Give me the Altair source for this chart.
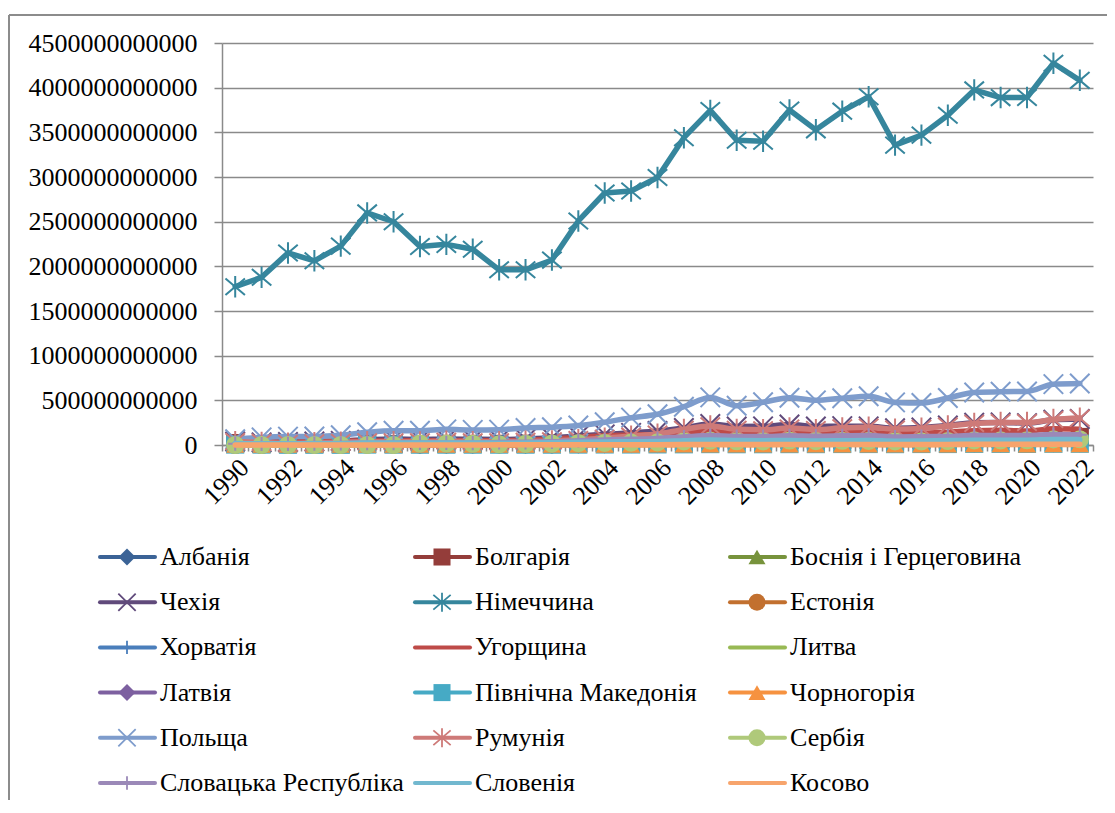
import altair as alt
import pandas as pd

years = [1990, 1991, 1992, 1993, 1994, 1995, 1996, 1997, 1998, 1999, 2000,
         2001, 2002, 2003, 2004, 2005, 2006, 2007, 2008, 2009, 2010, 2011,
         2012, 2013, 2014, 2015, 2016, 2017, 2018, 2019, 2020, 2021, 2022]

names = ["Албанія", "Болгарія", "Боснія і Герцеговина",
         "Чехія", "Німеччина", "Естонія",
         "Хорватія", "Угорщина", "Литва",
         "Латвія", "Північна Македонія", "Чорногорія",
         "Польща", "Румунія", "Сербія",
         "Словацька Республіка", "Словенія", "Косово"]

# values in billions of USD
albania = [2, 1, 1, 1, 2, 2, 3, 2, 3, 3, 4, 4, 4, 6, 7, 8, 9, 11, 13, 12, 12, 13, 12, 13, 13, 11, 12, 13, 15, 15, 15, 18, 19]
bulgaria = [21, 11, 11, 11, 10, 13, 10, 11, 13, 13, 13, 14, 16, 21, 26, 29, 33, 44, 54, 52, 50, 57, 54, 56, 57, 50, 54, 59, 66, 68, 70, 84, 90]
bosnia = [0, 0, 0, 0, 1, 2, 3, 4, 4, 5, 6, 6, 7, 9, 10, 11, 13, 16, 19, 18, 17, 19, 17, 18, 19, 16, 17, 18, 20, 20, 20, 23, 25]
czechia = [40, 29, 34, 40, 46, 58, 66, 62, 67, 64, 62, 68, 82, 100, 119, 136, 156, 190, 236, 207, 209, 230, 208, 211, 209, 188, 196, 219, 249, 253, 245, 282, 291]
germany = [1772, 1877, 2150, 2062, 2226, 2598, 2499, 2222, 2246, 2191, 1961, 1961, 2070, 2508, 2821, 2844, 2994, 3440, 3745, 3411, 3400, 3750, 3528, 3737, 3898, 3357, 3469, 3691, 3975, 3889, 3890, 4274, 4082]
estonia = [0, 0, 0, 0, 0, 5, 5, 5, 6, 6, 6, 6, 7, 10, 12, 14, 17, 22, 24, 20, 20, 23, 23, 25, 27, 23, 24, 27, 31, 31, 31, 37, 38]
croatia = [25, 22, 11, 11, 15, 23, 24, 24, 25, 24, 22, 23, 27, 35, 42, 46, 50, 60, 71, 63, 60, 63, 57, 58, 58, 50, 52, 56, 61, 61, 57, 69, 72]
hungary = [34, 34, 38, 39, 43, 46, 46, 47, 48, 49, 47, 53, 67, 85, 103, 112, 115, 139, 157, 131, 132, 141, 128, 135, 141, 126, 129, 143, 160, 164, 157, 182, 177]
lithuania = [0, 0, 0, 0, 0, 8, 9, 10, 11, 11, 12, 12, 14, 19, 23, 26, 30, 39, 48, 37, 37, 44, 43, 47, 49, 41, 43, 48, 54, 55, 57, 67, 70]
latvia = [0, 0, 0, 0, 0, 6, 6, 7, 7, 8, 8, 9, 10, 12, 14, 17, 22, 30, 36, 27, 24, 28, 28, 30, 31, 27, 28, 30, 34, 34, 35, 40, 41]
macedonia = [5, 5, 3, 3, 3, 5, 5, 4, 4, 4, 4, 4, 4, 5, 6, 6, 7, 8, 10, 9, 9, 10, 10, 11, 11, 10, 11, 11, 13, 13, 12, 14, 14]
montenegro = [0, 0, 0, 0, 0, 0, 0, 1, 1, 1, 1, 1, 2, 2, 2, 2, 3, 4, 5, 4, 4, 5, 4, 5, 5, 4, 4, 5, 6, 6, 5, 6, 6]
poland = [65, 85, 94, 96, 110, 142, 159, 159, 175, 169, 172, 191, 199, 218, 255, 306, 344, 429, 533, 440, 479, 529, 500, 524, 545, 477, 470, 526, 588, 597, 599, 681, 689]
romania = [38, 29, 20, 26, 30, 36, 36, 35, 42, 36, 37, 41, 46, 60, 76, 99, 122, 175, 214, 175, 170, 190, 172, 192, 200, 178, 188, 212, 242, 251, 251, 285, 301]
serbia = [0, 0, 0, 0, 0, 0, 0, 16, 17, 14, 7, 12, 16, 21, 24, 26, 30, 40, 49, 42, 41, 50, 44, 48, 47, 40, 41, 45, 51, 52, 53, 63, 64]
slovakia = [15, 11, 12, 16, 18, 20, 21, 23, 23, 21, 29, 30, 35, 47, 57, 63, 72, 90, 106, 95, 94, 104, 99, 103, 107, 90, 93, 96, 108, 107, 107, 118, 115]
slovenia = [17, 13, 13, 13, 15, 21, 21, 21, 22, 23, 20, 21, 24, 30, 34, 36, 39, 48, 56, 50, 48, 51, 46, 48, 50, 43, 45, 49, 54, 54, 54, 62, 60]
kosovo = [0, 0, 0, 0, 0, 0, 0, 0, 0, 0, 2, 2, 3, 3, 3, 3, 4, 5, 6, 6, 6, 7, 6, 7, 7, 6, 7, 7, 8, 8, 8, 9, 9]

series = [albania, bulgaria, bosnia, czechia, germany, estonia, croatia, hungary,
          lithuania, latvia, macedonia, montenegro, poland, romania, serbia,
          slovakia, slovenia, kosovo]

y_ticks = [0, 500e9, 1000e9, 1500e9, 2000e9, 2500e9, 3000e9, 3500e9, 4000e9, 4500e9]

colors = ["#3B6396", "#943D3A", "#77933C", "#604A7B", "#36869D", "#C2702F",
          "#4A7EBB", "#BE4B48", "#98B954", "#7D60A0", "#46AAC5", "#F69240",
          "#7E9CCC", "#CE7A78", "#AFC97A", "#9B89B8", "#72B8CF", "#F7A46C"]

X_PATH = "M-1,-1L1,1M-1,1L1,-1"
STAR_PATH = "M-1,-0.85L1,0.85M-1,0.85L1,-0.85M0,-1.1L0,1.1"
PLUS_PATH = "M-1,0L1,0M0,-1L0,1"
markers = ["diamond", "square", "triangle-up", "x", "star", "circle",
           "plus", None, None, "diamond", "square", "triangle-up",
           "x", "star", "circle", "plus", None, None]
filled_kinds = {"diamond": "diamond", "square": "square", "triangle-up": "triangle-up", "circle": "circle"}
stroke_kinds = {"x": X_PATH, "star": STAR_PATH, "plus": PLUS_PATH}

rows = []
for n, vals in zip(names, series):
    for yr, v in zip(years, vals):
        rows.append({"country": n, "year": yr, "gdp": v * 1e9})
df = pd.DataFrame(rows)

FONT = "Liberation Serif"
GRAY = "#8A8A8A"

X = alt.X("year:O", scale=alt.Scale(type="band", paddingInner=0, paddingOuter=0),
          axis=alt.Axis(title=None, labelExpr="datum.value % 2 == 0 ? datum.label : ''",
                        labelAngle=-45, tickBand="extent", labelFont=FONT, labelFontSize=26,
                        labelColor="black", domainColor=GRAY, domainWidth=1.5, tickColor=GRAY,
                        tickWidth=1.5, tickSize=6, labelPadding=3, labelOverlap=False, grid=False))
Y = alt.Y("gdp:Q", scale=alt.Scale(domain=[0, 4500e9], nice=False),
          axis=alt.Axis(title=None, values=y_ticks, format="d", labelFont=FONT, labelFontSize=26,
                        labelColor="black", labelLimit=400, grid=True, gridColor=GRAY, gridWidth=1.5,
                        domainColor=GRAY, domainWidth=1.5, tickColor=GRAY, tickWidth=1.5,
                        tickSize=8, labelPadding=17))

layers = []
for i, n in enumerate(names):
    base = alt.Chart().transform_filter(alt.datum.country == n).encode(x=X, y=Y)
    interp = "linear" if n == "Німеччина" else "monotone"
    layers.append(base.mark_line(color=colors[i], strokeWidth=5.5, interpolate=interp,
                                 strokeJoin="round", strokeCap="round"))
    m = markers[i]
    if m in filled_kinds:
        layers.append(base.mark_point(shape=filled_kinds[m], filled=True, color=colors[i],
                                      size=330, opacity=1))
    elif m in stroke_kinds:
        layers.append(base.mark_point(shape=stroke_kinds[m], filled=False, color=colors[i],
                                      size=380 if m != "plus" else 200, strokeWidth=2, opacity=1))

# outer frame
layers.append(alt.Chart().mark_rule(color="#8C8C8C", strokeWidth=1.5).encode(
    x=alt.value(-213), y=alt.value(-28), y2=alt.value(780)))
layers.append(alt.Chart().mark_rule(color="#8C8C8C", strokeWidth=1.5).encode(
    x=alt.value(-213), x2=alt.value(900), y=alt.value(-28)))

main = alt.layer(*layers, data=df)

# legend (3 columns x 6 rows, row-major)
leg_df = pd.DataFrame({
    "country": names,
    "col": [i % 3 for i in range(len(names))],
    "row": [i // 3 for i in range(len(names))],
    "kind": [m if m else "none" for m in markers],
})
shape_range = [filled_kinds.get(m) or stroke_kinds.get(m) or "circle" for m in markers]
LX = alt.X("col:Q", scale=alt.Scale(domain=[0, 2], range=[-122, 508]), axis=None)
LY = alt.Y("row:Q", scale=alt.Scale(domain=[0, 5], range=[514, 740]), axis=None)
LC = alt.Color("country:N", scale=alt.Scale(domain=names, range=colors), legend=None)
LS = alt.Shape("country:N", scale=alt.Scale(domain=names, range=shape_range), legend=None)

leg_line = alt.Chart(leg_df).mark_rule(strokeWidth=4, strokeCap="round", x2Offset=55).encode(
    x=LX, x2="col:Q", y=LY, color=LC)
leg_fill = alt.Chart(leg_df).transform_filter(
    alt.FieldOneOfPredicate(field="kind", oneOf=list(filled_kinds.keys()))
).mark_point(filled=True, size=290, opacity=1, xOffset=27).encode(x=LX, y=LY, color=LC, shape=LS)
leg_stroke = alt.Chart(leg_df).transform_filter(
    alt.FieldOneOfPredicate(field="kind", oneOf=["x", "star"])
).mark_point(filled=False, size=300, strokeWidth=1.8, opacity=1, xOffset=27).encode(
    x=LX, y=LY, color=LC, shape=LS)
leg_plus = alt.Chart(leg_df).transform_filter(
    alt.FieldOneOfPredicate(field="kind", oneOf=["plus"])
).mark_point(filled=False, size=180, strokeWidth=1.8, opacity=1, xOffset=27).encode(
    x=LX, y=LY, color=LC, shape=LS)
leg_text = alt.Chart(leg_df).mark_text(align="left", baseline="middle", xOffset=60,
                                       font=FONT, fontSize=26, color="black").encode(
    x=LX, y=LY, text="country:N")
legend = alt.layer(leg_line, leg_fill, leg_stroke, leg_plus, leg_text)

chart = alt.layer(main, legend).resolve_scale(x="independent", y="independent").properties(
    width=871, height=402,
    autosize=alt.AutoSizeParams(type="none"),
    padding={"left": 214, "top": 35, "right": 14, "bottom": 355},
).configure_view(stroke=None)

chart.save("out.html", embed_options={"renderer": "svg", "actions": False})
